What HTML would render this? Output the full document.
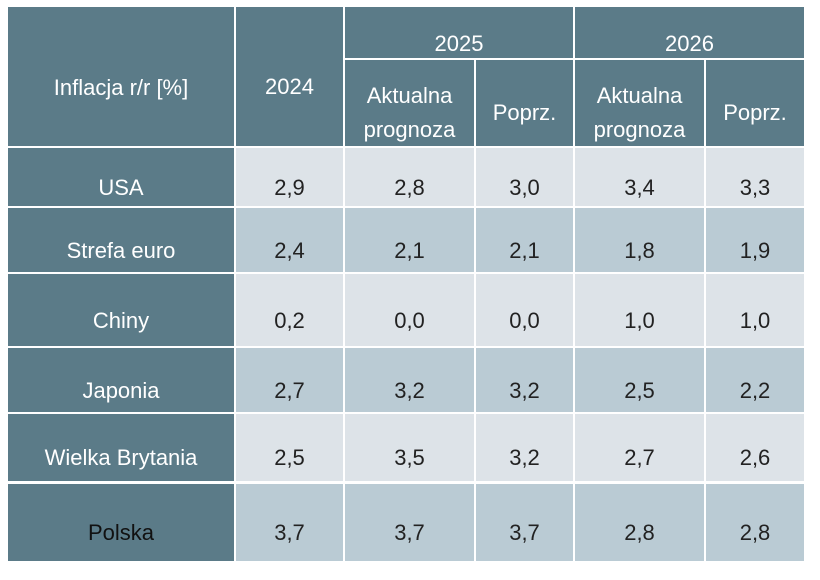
<!DOCTYPE html>
<html><head><style>
body{margin:0;width:820px;height:580px;background:#fff;position:relative;font-family:"Liberation Sans",sans-serif;overflow:hidden}
.c{position:absolute;display:flex;align-items:center;justify-content:center;text-align:center;font-size:22px;line-height:27px;box-sizing:border-box}
.h{background:#5b7b88;color:#fff}
.l{background:#dde3e8;color:#222}
.m{background:#bacbd4;color:#222}
</style></head><body>
<div class="c h" style="left:8px;top:7px;width:226px;height:139px;padding-top:22px">Inflacja r/r [%]</div>
<div class="c h" style="left:236px;top:7px;width:107px;height:139px;padding-top:20px">2024</div>
<div class="c h" style="left:345px;top:7px;width:228px;height:51px;padding-top:22px">2025</div>
<div class="c h" style="left:575px;top:7px;width:229px;height:51px;padding-top:22px">2026</div>
<div class="c h" style="left:345px;top:60px;width:129px;height:86px;padding-top:20px;line-height:34px">Aktualna<br>prognoza</div>
<div class="c h" style="left:476px;top:60px;width:97px;height:86px;padding-top:18px">Poprz.</div>
<div class="c h" style="left:575px;top:60px;width:129px;height:86px;padding-top:20px;line-height:34px">Aktualna<br>prognoza</div>
<div class="c h" style="left:706px;top:60px;width:98px;height:86px;padding-top:18px">Poprz.</div>
<div id="rows"></div>
<script>
var rows=[["USA",148,206,"l",["2,9","2,8","3,0","3,4","3,3"]],
["Strefa euro",208,272,"m",["2,4","2,1","2,1","1,8","1,9"]],
["Chiny",274,346,"l",["0,2","0,0","0,0","1,0","1,0"]],
["Japonia",348,412,"m",["2,7","3,2","3,2","2,5","2,2"]],
["Wielka Brytania",414,481,"l",["2,5","3,5","3,2","2,7","2,6"]],
["Polska",484,561,"m",["3,7","3,7","3,7","2,8","2,8"]]];
var cols=[[236,343],[345,474],[476,573],[575,704],[706,804]];
var h="";
rows.forEach(function(r){
 var t=r[1],hh=r[2]-r[1];
 h+='<div class="c h" style="left:8px;top:'+t+'px;width:226px;height:'+hh+'px;padding-top:20px;'+(r[0]=="Polska"?'color:#111':'')+'">'+r[0]+'</div>';
 cols.forEach(function(c,i){h+='<div class="c '+r[3]+'" style="left:'+c[0]+'px;top:'+t+'px;width:'+(c[1]-c[0])+'px;height:'+hh+'px;padding-top:20px">'+r[4][i]+'</div>';});
});
document.getElementById("rows").outerHTML=h;
</script>
</body></html>
